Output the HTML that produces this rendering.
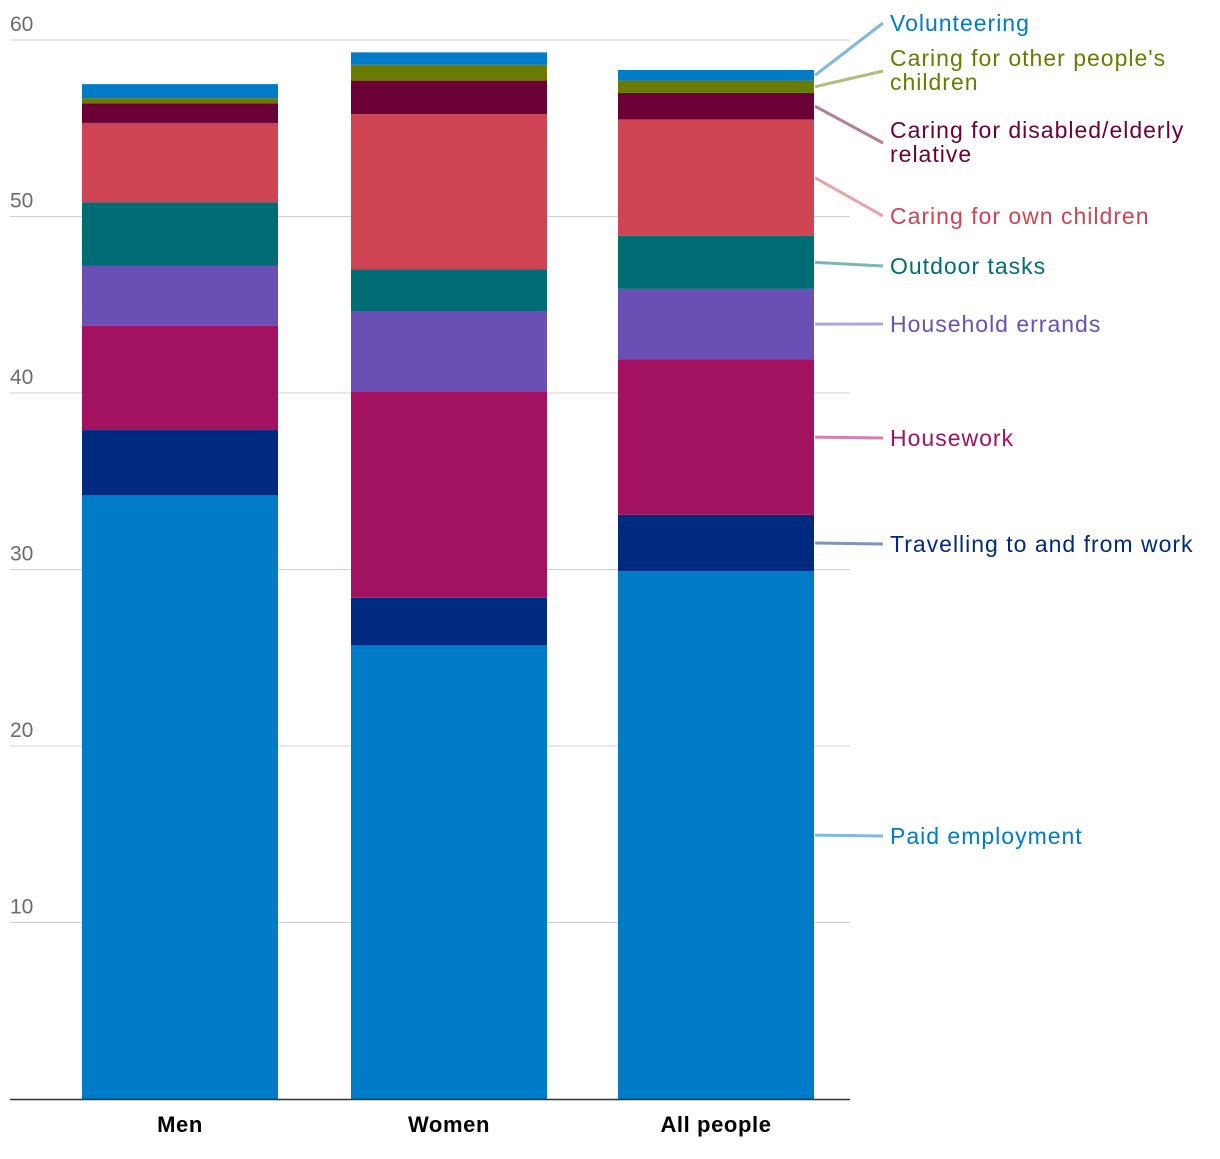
<!DOCTYPE html>
<html><head><meta charset="utf-8"><style>
body{margin:0;background:#fff;}
svg text{font-family:"Liberation Sans",sans-serif;}
</style></head><body>
<svg id="chart" width="1220" height="1154" viewBox="0 0 1220 1154"></svg>
<script>
const categories = ["Men","Women","All people"];
const seriesNames = ["Paid employment","Travelling to and from work","Housework","Household errands","Outdoor tasks","Caring for own children","Caring for disabled/elderly relative","Caring for other people's children","Volunteering"];
const paid = [34.2,25.7,29.9];
const travel = [3.7,2.7,3.2];
const housework = [5.9,11.7,8.8];
const errands = [3.4,4.5,4.0];
const outdoor = [3.6,2.4,3.0];
const ownChildren = [4.5,8.8,6.6];
const disabled = [1.1,1.9,1.5];
const otherChildren = [0.3,0.9,0.7];
const volunteering = [0.8,0.7,0.6];
const yTicks = [10,20,30,40,50,60];

const series = [paid,travel,housework,errands,outdoor,ownChildren,disabled,otherChildren,volunteering];
const colors = ["#007bc7","#002a7f","#a31261","#6a4fb5","#006d74","#cf4452","#6b0036","#6b7a00","#007bc7"];
const lineColors = ["#7fb8e0","#7f93c0","#d67fae","#b2a6db","#7fb5b8","#e8a2a9","#b07f9a","#b3bc7f","#7fb8e0"];
const labelLines = [["Paid employment"],["Travelling to and from work"],["Housework"],["Household errands"],["Outdoor tasks"],["Caring for own children"],["Caring for disabled/elderly","relative"],["Caring for other people's","children"],["Volunteering"]];
const labelY = [836,544,438,324,266,216,143,71,23];

const svg = document.getElementById('chart');
const NS = "http://www.w3.org/2000/svg";
const y = v => 1099 - v * (1059/60);
const barX = i => [82,351,618][i];
const barW = 196;
function mk(tag, attrs){const e=document.createElementNS(NS,tag);for(const k in attrs)e.setAttribute(k,attrs[k]);svg.appendChild(e);return e;}

yTicks.forEach(t=>{
  const g = mk('line',{x1:10,x2:850,y1:y(t),y2:y(t),stroke:'#d0d0d0','stroke-width':1});
  
  
  const tx = mk('text',{x:10,y:y(t)-9,'font-size':21,fill:'#6b6b6b'});
  tx.textContent = t;
  
  
});

categories.forEach((c,i)=>{
  let cum = 0;
  series.forEach((s,j)=>{
    const r = mk('rect',{x:barX(i),width:barW,y:y(cum+s[i]),height:y(cum)-y(cum+s[i]),fill:colors[j]});
    
    
    cum += s[i];
  });
  const tx = mk('text',{x:barX(i)+barW/2,y:1132,'font-size':22,'letter-spacing':0.6,'font-weight':'bold','text-anchor':'middle',fill:'#000'});
  tx.textContent = c;
  
  
});

const base = mk('line',{x1:10,x2:850,y1:1099.5,y2:1099.5,stroke:'#333','stroke-width':1.5});



let cum = 0;
series.forEach((s,j)=>{
  const mid = cum + s[2]/2; cum += s[2];
  const l = mk('line',{x1:815,y1:y(mid),x2:883,y2:labelY[j],stroke:lineColors[j],'stroke-width':3});
  
  
  const n = labelLines[j].length;
  const y0 = labelY[j] + 8 - (n-1)*13;
  labelLines[j].forEach((ln,k)=>{
    const t = mk('text',{x:890,y:y0+k*24,'font-size':23,'letter-spacing':1,fill:colors[j]});
    t.textContent = ln;
    
    
  });
});
</script>
</body></html>
